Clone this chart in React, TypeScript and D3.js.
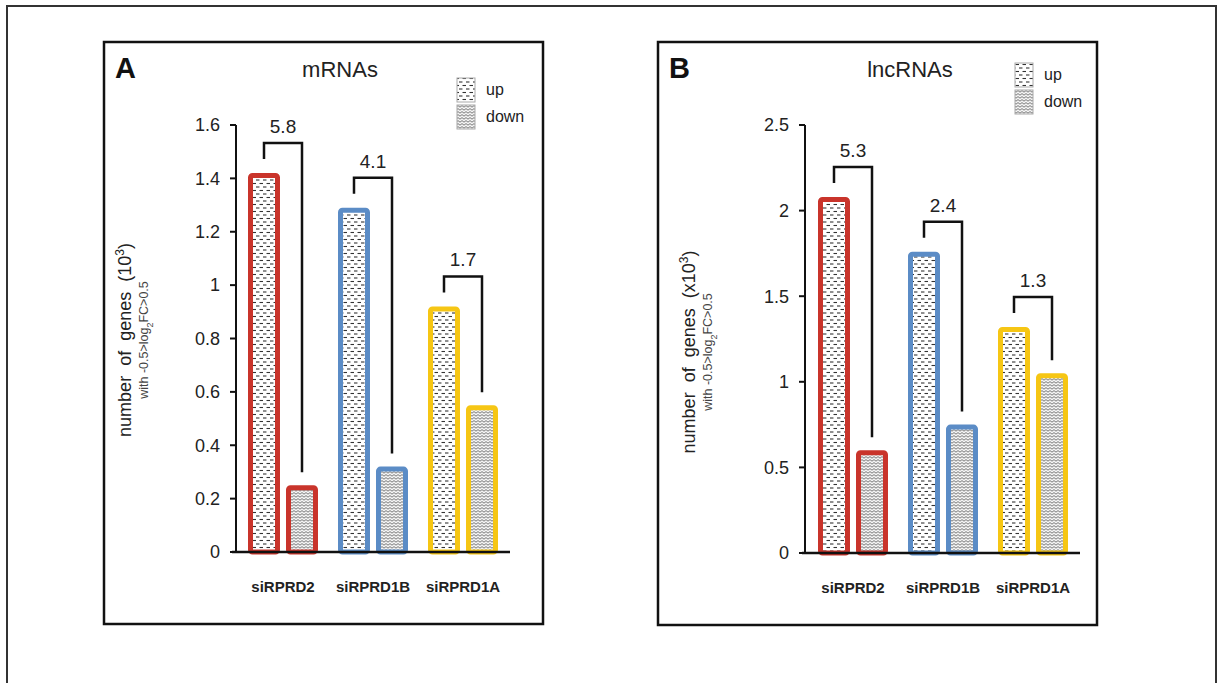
import React from "react";
import * as d3 from "d3";

const categories = ["siRPRD2", "siRPRD1B", "siRPRD1A"];
const barColors = ["#c9342b", "#5b8cc6", "#f6c614"];

const mrnaUp = [1.42, 1.29, 0.92];
const mrnaDown = [0.25, 0.32, 0.55];
const mrnaRatio = ["5.8", "4.1", "1.7"];
const mrnaTicks = [0, 0.2, 0.4, 0.6, 0.8, 1, 1.2, 1.4, 1.6];

const lncUp = [2.08, 1.76, 1.32];
const lncDown = [0.6, 0.75, 1.05];
const lncRatio = ["5.3", "2.4", "1.3"];
const lncTicks = [0, 0.5, 1, 1.5, 2, 2.5];

const FONT = "'Liberation Sans', Arial, sans-serif";

type PanelProps = {
  letter: string;
  title: string;
  up: number[];
  down: number[];
  ratios: string[];
  ticks: number[];
  yMax: number;
  frame: [number, number, number, number];
  axisX: number;
  yTop: number;
  y0: number;
  bandRange: [number, number];
  baseline: [number, number];
  titleX: number;
  legendX: number;
  legendY: number;
  labelX: number;
  labelY: number;
  unit: string;
};

function Panel(p: PanelProps) {
  const y = d3.scaleLinear().domain([0, p.yMax]).range([p.y0, p.yTop]);
  const x0 = d3
    .scaleBand()
    .domain(categories)
    .range(p.bandRange)
    .paddingInner(20 / 90)
    .paddingOuter(10 / 90);
  const x1 = d3
    .scaleBand()
    .domain(["up", "down"])
    .range([0, x0.bandwidth()])
    .paddingInner(6 / 38);
  const [fx, fy, fw, fh] = p.frame;
  const bw = x1.bandwidth();

  return (
    <g>
      <rect x={fx} y={fy} width={fw} height={fh} fill="#fff" stroke="#111" strokeWidth={2.5} />
      <text x={fx + 11} y={fy + 36} fontFamily={FONT} fontWeight="bold" fontSize={29} fill="#111">
        {p.letter}
      </text>
      <text x={p.titleX} y={fy + 35} textAnchor="middle" fontFamily={FONT} fontSize={22} fill="#222">
        {p.title}
      </text>

      {/* legend */}
      {["up", "down"].map((k, i) => (
        <g key={k}>
          <rect
            x={p.legendX}
            y={p.legendY + i * 27}
            width={18}
            height={24}
            fill={k === "up" ? "url(#patUp)" : "url(#patDown)"}
            stroke="#aaa"
            strokeWidth={1}
          />
          <text x={p.legendX + 29} y={p.legendY + i * 27 + 17} fontFamily={FONT} fontSize={16} fill="#222">
            {k}
          </text>
        </g>
      ))}

      {/* y axis */}
      <line x1={p.axisX} x2={p.axisX} y1={y(p.yMax)} y2={p.y0} stroke="#111" strokeWidth={2} />
      {p.ticks.map((t) => (
        <g key={t}>
          <line x1={p.axisX - 6} x2={p.axisX} y1={y(t)} y2={y(t)} stroke="#111" strokeWidth={2} />
          <text
            x={p.axisX - 16}
            y={y(t)}
            dy="0.35em"
            textAnchor="end"
            fontFamily={FONT}
            fontSize={18}
            fill="#222"
          >
            {t}
          </text>
        </g>
      ))}

      {/* y label */}
      <g transform={`translate(${p.labelX},${p.labelY}) rotate(-90)`}>
        <text x={0} y={0} textAnchor="middle" fontFamily={FONT} fontSize={18} wordSpacing={5} fill="#222">
          number of genes ({p.unit}10
          <tspan baselineShift="super" fontSize={12}>
            3
          </tspan>
          )
        </text>
        <text x={0} y={17} textAnchor="middle" fontFamily={FONT} fontSize={12.5} fill="#444">
          with -0.5&gt;log
          <tspan baselineShift="sub" fontSize={9}>
            2
          </tspan>
          FC&gt;0.5
        </text>
      </g>

      {/* bars */}
      {categories.map((c, i) => {
        const gx = x0(c) as number;
        const ux = gx + (x1("up") as number);
        const dx = gx + (x1("down") as number);
        const upTop = y(p.up[i]);
        const downTop = y(p.down[i]);
        const bTop = upTop - 30;
        const lx = ux + bw / 2;
        const rx = dx + bw / 2;
        return (
          <g key={c}>
            <rect
              x={ux + 2.5}
              y={upTop + 2.5}
              width={bw - 5}
              height={p.y0 - upTop - 2.5}
              rx={2}
              fill="url(#patUp)"
              stroke={barColors[i]}
              strokeWidth={5}
            />
            <rect
              x={dx + 2.5}
              y={downTop + 2.5}
              width={bw - 5}
              height={p.y0 - downTop - 2.5}
              rx={2}
              fill="url(#patDown)"
              stroke={barColors[i]}
              strokeWidth={5}
            />
            <path
              d={`M${lx},${upTop - 14} V${bTop} H${rx} V${downTop - 13}`}
              fill="none"
              stroke="#111"
              strokeWidth={2.5}
            />
            <text
              x={(lx + rx) / 2}
              y={bTop - 10}
              textAnchor="middle"
              fontFamily={FONT}
              fontSize={19}
              fill="#222"
            >
              {p.ratios[i]}
            </text>
            <text
              x={gx + x0.bandwidth() / 2}
              y={p.y0 + 40}
              textAnchor="middle"
              fontFamily={FONT}
              fontWeight="bold"
              fontSize={15}
              fill="#222"
            >
              {c}
            </text>
          </g>
        );
      })}

      {/* baseline */}
      <line x1={p.baseline[0]} x2={p.baseline[1]} y1={p.y0} y2={p.y0} stroke="#111" strokeWidth={2.5} />
    </g>
  );
}

export default function App() {
  return (
    <svg width={1219} height={683} style={{ position: "absolute", left: 0, top: 0 }}>
      <defs>
        <pattern id="patUp" width={7} height={7} patternUnits="userSpaceOnUse">
          <rect width={7} height={7} fill="#fff" />
          <line x1={0.5} x2={4} y1={1.5} y2={1.5} stroke="#333" strokeWidth={1.1} />
          <line x1={4} x2={7} y1={5} y2={5} stroke="#333" strokeWidth={1.1} />
          <line x1={0} x2={0.5} y1={5} y2={5} stroke="#333" strokeWidth={1.1} />
        </pattern>
        <pattern id="patDown" width={4} height={3} patternUnits="userSpaceOnUse">
          <rect width={4} height={3} fill="#f4f4f4" />
          <path d="M0,2.2 L2,0.6 L4,2.2" fill="none" stroke="#666" strokeWidth={0.9} />
        </pattern>
      </defs>
      <rect x={0} y={0} width={1219} height={683} fill="#fff" />
      <rect x={7} y={6} width={1209} height={690} fill="#fff" stroke="#333" strokeWidth={2} />

      <Panel
        letter="A"
        title="mRNAs"
        up={mrnaUp}
        down={mrnaDown}
        ratios={mrnaRatio}
        ticks={mrnaTicks}
        yMax={1.6}
        frame={[104, 42, 439, 582]}
        axisX={236}
        yTop={125}
        y0={552}
        bandRange={[238, 508]}
        baseline={[232, 510]}
        titleX={340}
        legendX={457}
        legendY={78}
        labelX={131}
        labelY={340}
        unit=""
      />
      <Panel
        letter="B"
        title="lncRNAs"
        up={lncUp}
        down={lncDown}
        ratios={lncRatio}
        ticks={lncTicks}
        yMax={2.5}
        frame={[658, 42, 439, 583]}
        axisX={805}
        yTop={125}
        y0={553}
        bandRange={[808, 1078]}
        baseline={[802, 1080]}
        titleX={910}
        legendX={1015}
        legendY={63}
        labelX={695}
        labelY={352}
        unit="x"
      />
    </svg>
  );
}
